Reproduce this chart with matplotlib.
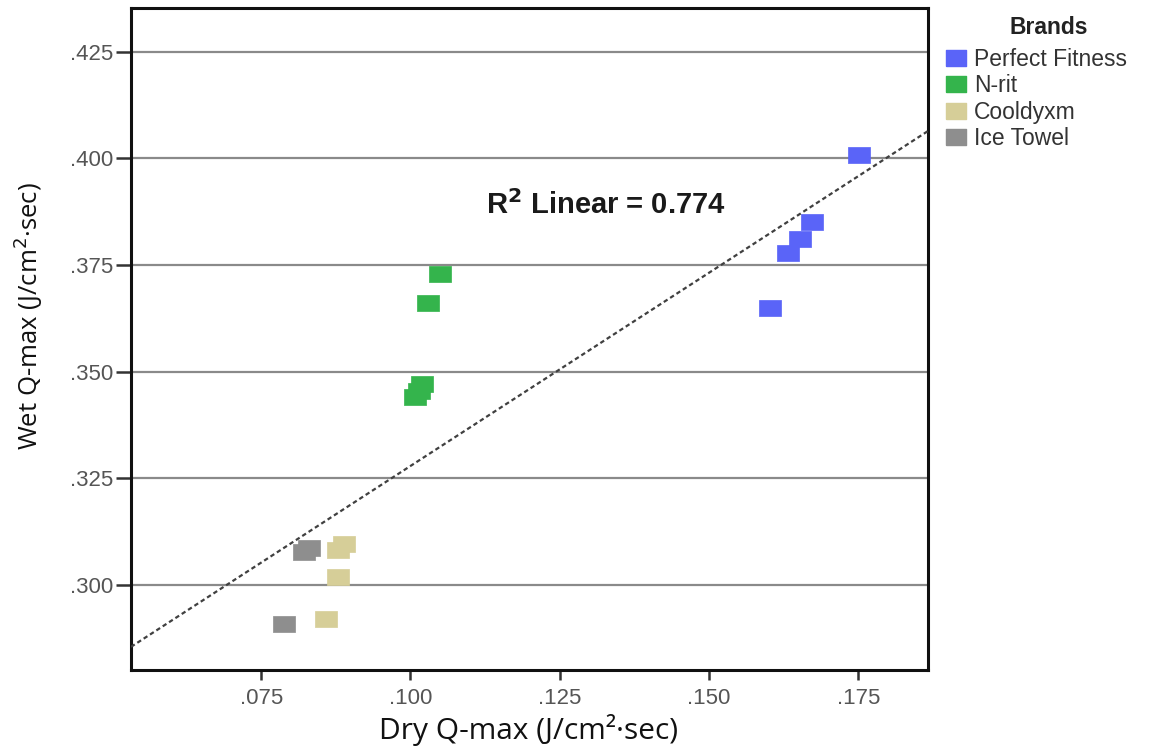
#!/usr/bin/env python3
"""Scatter of wet vs dry Q-max by towel brand, with linear fit line."""

import matplotlib as mpl

mpl.use("Agg")

import matplotlib.pyplot as plt
import numpy as np
from matplotlib.lines import Line2D

# --- data ---
brands = ["Perfect Fitness", "N-rit", "Cooldyxm", "Ice Towel"]
brand_colors = ["#5a64f8", "#34b44c", "#d6ce98", "#8e8e8e"]

dry_perfect = [0.1752, 0.1673, 0.1653, 0.1633, 0.1602]
wet_perfect = [0.4009, 0.3850, 0.3810, 0.3779, 0.3650]

dry_nrit = [0.1050, 0.1030, 0.1020, 0.1015, 0.1008]
wet_nrit = [0.3730, 0.3660, 0.3470, 0.3455, 0.3440]

dry_cool = [0.0889, 0.0879, 0.0879, 0.0859]
wet_cool = [0.3096, 0.3082, 0.3019, 0.2920]

dry_ice = [0.0822, 0.0830, 0.0789]
wet_ice = [0.3076, 0.3085, 0.2908]

fit_slope = 0.9065
fit_intercept = 0.2372
r2_linear = 0.774

x_ticks = [0.075, 0.100, 0.125, 0.150, 0.175]
y_ticks = [0.300, 0.325, 0.350, 0.375, 0.400, 0.425]
x_limits = (0.0532, 0.1867)
y_limits = (0.2800, 0.4353)

# wide rectangular marker, like the stretched SPSS squares
RECT = [(-1.35, -1.0), (1.35, -1.0), (1.35, 1.0), (-1.35, 1.0), (-1.35, -1.0)]

TICK_FONT = "Liberation Sans"
LABEL_FONT = "Open Sans"


def main() -> None:
    fig = plt.figure(figsize=(11.51, 7.47), dpi=100)
    ax = fig.add_axes([0.1138, 0.1031, 0.6925, 0.8862])

    for y in y_ticks:
        ax.axhline(y, color="#8a8a8a", lw=1.6, zorder=1)

    series = [
        (dry_perfect, wet_perfect),
        (dry_nrit, wet_nrit),
        (dry_cool, wet_cool),
        (dry_ice, wet_ice),
    ]
    for (xs, ys), color in zip(series, brand_colors):
        ax.plot(xs, ys, linestyle="none", marker=RECT, markersize=16.5,
                markerfacecolor=color, markeredgecolor=color,
                markeredgewidth=0.5, zorder=3)

    x_line = np.array(x_limits)
    ax.plot(x_line, fit_intercept + fit_slope * x_line, color="#404040",
            lw=1.6, dashes=(2.0, 1.4), zorder=4)

    ax.text(0.1327, 0.3890, f"R$^{{\\mathbf{{2}}}}$ Linear = {r2_linear:.3f}",
            ha="center", va="center", fontsize=21, fontweight="bold",
            family=TICK_FONT, color="#1a1a1a")

    ax.set_xlim(*x_limits)
    ax.set_ylim(*y_limits)
    ax.set_xticks(x_ticks)
    ax.set_yticks(y_ticks)
    ax.set_xticklabels([f"{v:.3f}".lstrip("0") for v in x_ticks])
    ax.set_yticklabels([f"{v:.3f}".lstrip("0") for v in y_ticks])

    for spine in ax.spines.values():
        spine.set_linewidth(2.2)
        spine.set_color("#111111")

    ax.tick_params(axis="x", length=7, width=1.8, color="#333333", pad=6,
                   labelsize=16, labelcolor="#555555")
    ax.tick_params(axis="y", length=11, width=1.8, color="#333333", pad=2,
                   labelsize=16, labelcolor="#555555")
    for lab in ax.get_xticklabels() + ax.get_yticklabels():
        lab.set_family(TICK_FONT)

    ax.set_xlabel("Dry Q-max (J/cm²·sec)", fontsize=21.5, family=LABEL_FONT,
                  color="#111111")
    ax.set_ylabel("Wet Q-max (J/cm$^{2}$·sec)", fontsize=18.5, family=LABEL_FONT,
                  color="#111111")
    ax.xaxis.set_label_coords(0.4994, -0.066)
    ax.yaxis.set_label_coords(-0.108, 0.535)

    fig.text(1049 / 1151, 1 - 28 / 747, "Brands", ha="center", va="center",
             family=TICK_FONT, fontsize=16.5, fontweight="bold", color="#222222")

    handles = [
        Line2D([], [], linestyle="none", marker=RECT, markersize=15,
               markerfacecolor=c, markeredgecolor=c)
        for c in brand_colors
    ]
    leg = fig.legend(handles, brands, loc="upper left",
                     bbox_to_anchor=(0.8205, 1 - 48 / 747), frameon=False,
                     prop={"family": TICK_FONT, "size": 16.5},
                     handlelength=1.0, handletextpad=0.3, labelspacing=0.15,
                     borderaxespad=0.0, borderpad=0.0)
    for t in leg.get_texts():
        t.set_color("#333333")

    fig.savefig("out.png", dpi=100)
    plt.close(fig)


if __name__ == "__main__":
    main()
